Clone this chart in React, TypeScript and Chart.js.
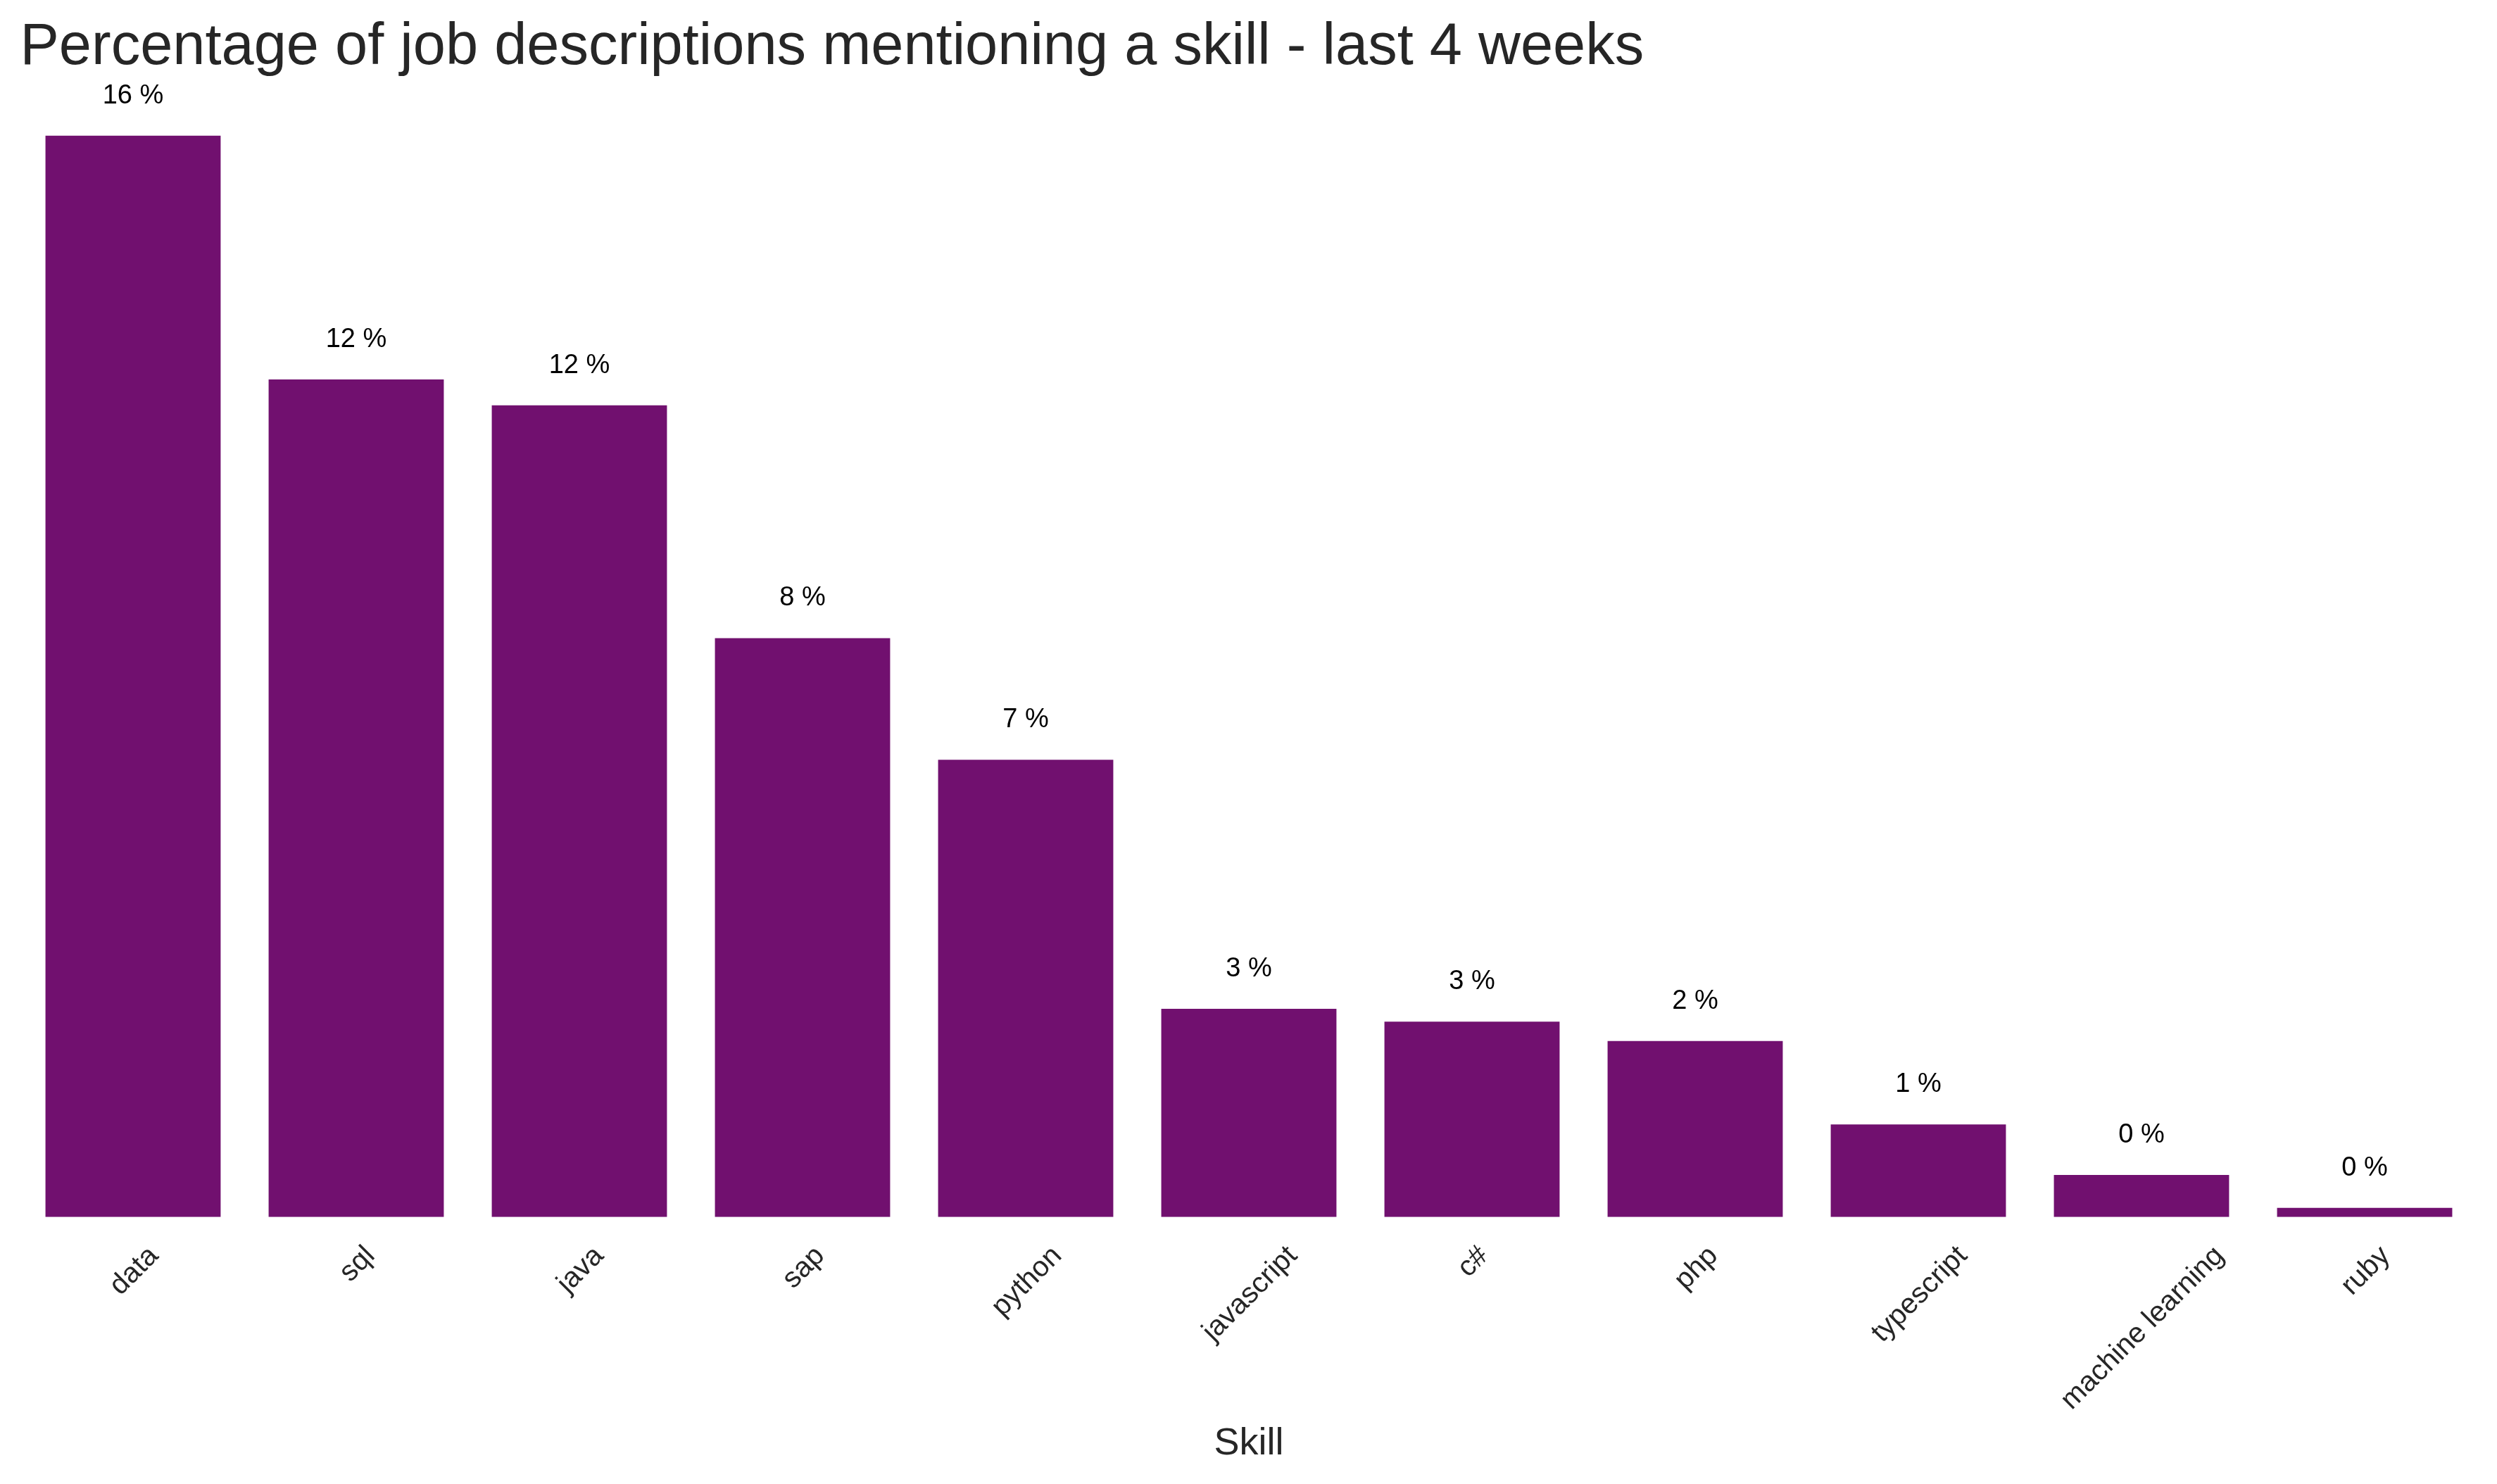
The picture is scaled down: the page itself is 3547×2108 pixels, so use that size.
import React, { useEffect, useRef } from "react";
import { Chart, registerables } from "chart.js";

Chart.register(...registerables);

const TITLE = "Percentage of job descriptions mentioning a skill - last 4 weeks";
const X_TITLE = "Skill";
const skills = [
  "data",
  "sql",
  "java",
  "sap",
  "python",
  "javascript",
  "c#",
  "php",
  "typescript",
  "machine learning",
  "ruby",
];
const shares = [16.72, 12.95, 12.55, 8.95, 7.07, 3.22, 3.02, 2.72, 1.43, 0.65, 0.14];
const shareLabels = shares.map((v) => `${Math.floor(v)} %`);

const W = 3547;
const H = 2108;
const FONT = '"Liberation Sans", Arial, Helvetica, sans-serif';
const TEXT_DARK = "#262626";
const BAR_COLOR = "#71106f";

const annotatePlugin = {
  id: "annotateBars",
  afterDraw(chart: any) {
    const ctx: CanvasRenderingContext2D = chart.ctx;
    const xs = chart.scales.x;
    const ys = chart.scales.y;
    const area = chart.chartArea;
    ctx.save();

    // title
    ctx.fillStyle = TEXT_DARK;
    ctx.font = `83px ${FONT}`;
    ctx.textAlign = "left";
    ctx.textBaseline = "alphabetic";
    ctx.fillText(TITLE, 28.5, 90.7);

    // value labels
    ctx.fillStyle = "#000000";
    ctx.font = `38px ${FONT}`;
    ctx.textAlign = "center";
    shares.forEach((v, i) => {
      const x = xs.getPixelForValue(i);
      const y = ys.getPixelForValue(v) - 46;
      ctx.fillText(shareLabels[i], x, y);
    });

    // rotated tick labels (bbox centred on tick, like matplotlib)
    const s = 40.5;
    ctx.font = `${s}px ${FONT}`;
    ctx.fillStyle = TEXT_DARK;
    ctx.textAlign = "left";
    ctx.textBaseline = "alphabetic";
    const r2 = Math.SQRT2;
    const pad = 31;
    skills.forEach((lab, i) => {
      const m = ctx.measureText(lab);
      const w = m.width;
      const asc = 0.905 * s;
      const desc = 0.212 * s;
      const tickX = xs.getPixelForValue(i);
      const ox = tickX - (w + desc - asc) / (2 * r2);
      const oy = area.bottom + pad + (w + asc) / r2;
      ctx.save();
      ctx.translate(ox, oy);
      ctx.rotate(-Math.PI / 4);
      ctx.fillText(lab, 0, 0);
      ctx.restore();
    });

    // x axis title
    ctx.font = `54px ${FONT}`;
    ctx.textAlign = "center";
    ctx.fillStyle = TEXT_DARK;
    ctx.fillText(X_TITLE, (area.left + area.right) / 2, 2066);

    ctx.restore();
  },
};

export default function App() {
  const ref = useRef<HTMLCanvasElement | null>(null);

  useEffect(() => {
    if (!ref.current) return;
    const chart = new Chart(ref.current, {
      type: "bar",
      data: {
        labels: skills,
        datasets: [
          {
            data: shares,
            backgroundColor: BAR_COLOR,
            borderWidth: 0,
            barPercentage: 0.785,
            categoryPercentage: 1.0,
          },
        ],
      },
      options: {
        responsive: false,
        animation: false,
        devicePixelRatio: 1,
        layout: {
          padding: { left: 30.5, right: 29.5, top: 121, bottom: 379.3 },
        },
        scales: {
          x: { display: false, grid: { display: false } },
          y: { display: false, min: 0, max: 17.5, grid: { display: false } },
        },
        plugins: {
          legend: { display: false },
          tooltip: { enabled: false },
          title: { display: false },
        },
      },
      plugins: [annotatePlugin],
    });
    return () => chart.destroy();
  }, []);

  return (
    <div style={{ position: "absolute", left: 0, top: 0, width: W, height: H, background: "#ffffff" }}>
      <canvas ref={ref} width={W} height={H} style={{ display: "block", width: W, height: H }} />
    </div>
  );
}
